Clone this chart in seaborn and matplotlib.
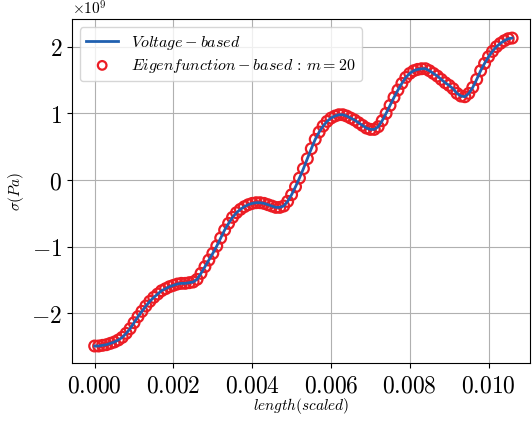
import numpy as np
import pandas as pd
import matplotlib
matplotlib.use("Agg")
import matplotlib.pyplot as plt
import seaborn as sns
from matplotlib.ticker import FuncFormatter, MultipleLocator

# stress values, in units of 1e9 Pa, step 1e-4 in length
sigma = [-2.49, -2.49, -2.48, -2.47, -2.45, -2.43, -2.40, -2.36, -2.30, -2.23,
         -2.14, -2.05, -1.97, -1.89, -1.82, -1.76, -1.71, -1.66, -1.63, -1.60,
         -1.58, -1.56, -1.55, -1.55, -1.54, -1.53, -1.49, -1.40, -1.30, -1.20,
         -1.10, -0.99, -0.87, -0.75, -0.65, -0.56, -0.49, -0.44, -0.40, -0.37,
         -0.35, -0.34, -0.34, -0.35, -0.37, -0.39, -0.41, -0.41, -0.39, -0.32,
         -0.22, -0.10, 0.03, 0.17, 0.32, 0.47, 0.61, 0.72, 0.81, 0.88,
         0.93, 0.96, 0.98, 0.98, 0.96, 0.93, 0.90, 0.86, 0.82, 0.78,
         0.76, 0.76, 0.80, 0.89, 1.00, 1.12, 1.24, 1.35, 1.45, 1.54,
         1.60, 1.64, 1.66, 1.67, 1.67, 1.64, 1.60, 1.56, 1.51, 1.46,
         1.42, 1.37, 1.30, 1.26, 1.25, 1.30, 1.39, 1.51, 1.64, 1.75,
         1.85, 1.93, 2.00, 2.05, 2.09, 2.12, 2.13]
length = np.linspace(0, 0.0106, len(sigma))

line_label = r'$Voltage-based$'
marker_label = r'$Eigenfunction-based\,:\,m=20$'

df = pd.DataFrame({'length': length, 'sigma': np.array(sigma) * 1e9})

plt.rcParams['mathtext.fontset'] = 'cm'

fig, ax = plt.subplots(figsize=(5.32, 4.22), dpi=100)
fig.subplots_adjust(left=0.135, right=0.996, bottom=0.139, top=0.954)

sns.lineplot(data=df, x='length', y='sigma', color='#2060b0', linewidth=2,
             label=line_label, ax=ax, zorder=3)
sns.scatterplot(data=df, x='length', y='sigma', facecolors='none',
                edgecolor='#ec1c24', linewidth=1.6, s=60, marker='o',
                label=marker_label, ax=ax, zorder=2)

ax.set_xlim(-0.00058, 0.01105)
ax.set_ylim(-2.75e9, 2.41e9)
ax.xaxis.set_major_locator(MultipleLocator(0.002))
ax.yaxis.set_major_locator(MultipleLocator(1e9))
ax.xaxis.set_major_formatter(FuncFormatter(lambda v, p: r'$%.3f$' % v))
ax.yaxis.set_major_formatter(FuncFormatter(lambda v, p: r'$%d$' % round(v / 1e9)))
ax.tick_params(labelsize=17)
ax.text(0.0, 1.004, r'$\times10^{9}$', transform=ax.transAxes, fontsize=11,
        ha='left', va='bottom')

ax.set_xlabel(r'$length(scaled)$', fontsize=11, labelpad=-1)
ax.set_ylabel(r'$\sigma(Pa)$', fontsize=11)
ax.grid(True, color='#b0b0b0', linewidth=0.8)
ax.set_axisbelow(True)

ax.legend(loc='upper left', fontsize=11.5, handlelength=2, labelspacing=0.3,
          markerscale=0.8)

fig.savefig('out.png', dpi=100)
